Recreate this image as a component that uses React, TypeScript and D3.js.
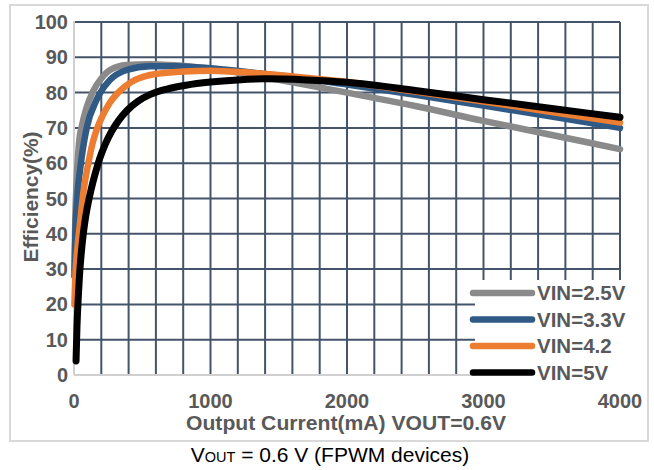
import React from "react";
import * as d3 from "d3";

type P = [number, number];

const series25: P[] = [[3,30],[10,45],[20,56],[30,62.5],[40,67],[56,70.3],[90,75.5],[141,80.5],[200,84],[264,86.4],[386,87.8],[560,88],[700,87.8],[900,87.2],[1100,86.3],[1400,84.3],[1700,82.2],[2000,80],[2500,76.2],[3000,72],[3500,68],[4000,64]];
const series33: P[] = [[3,28],[10,40],[25,51],[44,58],[65,64],[93,70],[166,78],[264,83.6],[386,86.4],[557,87.5],[750,87.5],[1000,86.9],[1300,85.7],[1600,84.4],[2000,82.3],[2500,79.4],[3000,76.3],[3500,73.2],[4000,70]];
const series42: P[] = [[3,20],[10,28],[25,36],[44,43],[73,53],[105,60],[135,65.5],[166,69.5],[210,73.5],[260,77],[337,80.5],[420,83],[557,85],[800,86],[1000,86.2],[1300,85.6],[1600,84.6],[2000,83],[2500,80.3],[3000,77.5],[3500,74.5],[4000,71.5]];
const series5: P[] = [[15,4],[22,14],[30,21],[40,28],[52,34],[65,39],[80,43.5],[100,48],[125,52.5],[155,57],[190,61.5],[230,65.5],[275,69],[325,72],[390,75],[470,77.6],[560,79.5],[680,81],[820,82.1],[1000,83],[1200,83.6],[1400,83.9],[1700,83.6],[2000,82.9],[2500,80.6],[3000,78],[3500,75.5],[4000,73]];

const seriesNames = ["VIN=2.5V", "VIN=3.3V", "VIN=4.2", "VIN=5V"];
const seriesColors = ["#8a8a8a", "#2f5a86", "#ed7d31", "#000000"];
const seriesData = [series25, series33, series42, series5];

const xTicks = [0, 1000, 2000, 3000, 4000];
const yTicks = [0, 10, 20, 30, 40, 50, 60, 70, 80, 90, 100];
const xGrid = d3.range(0, 4001, 200);

const FONT = "'Liberation Sans', Arial, sans-serif";
const GRID = "#44546a";
const LABEL = "#595959";

export default function App() {
  const x = d3.scaleLinear().domain([0, 4000]).range([74, 620]);
  const y = d3.scaleLinear().domain([0, 100]).range([375, 22]);
  const line = d3
    .line<P>()
    .x((d) => x(d[0]))
    .y((d) => y(d[1]))
    .curve(d3.curveMonotoneX);

  const legX0 = 473;
  const legX1 = 532;
  const legY = [293, 319.5, 346, 372.5];

  return (
    <svg
      width={654}
      height={470}
      style={{ position: "absolute", left: 0, top: 0, background: "#fff" }}
      fontFamily={FONT}
    >
      <rect x={0} y={0} width={654} height={470} fill="#fff" />
      <rect x={10} y={5} width={638} height={436} fill="#fff" stroke="#d9d9d9" strokeWidth={2} />

      {/* grid */}
      {yTicks.filter((t) => t > 0).map((t) => (
        <line key={"h" + t} x1={x(0)} x2={x(4000)} y1={y(t)} y2={y(t)} stroke={GRID} strokeWidth={2} />
      ))}
      {xGrid.filter((t) => t > 0).map((t) => (
        <line key={"v" + t} x1={x(t)} x2={x(t)} y1={y(100)} y2={y(0)} stroke={GRID} strokeWidth={2} />
      ))}
      <line x1={x(0)} x2={x(0)} y1={y(100) - 1} y2={y(0)} stroke="#d0d0d0" strokeWidth={2} />
      <line x1={x(0)} x2={x(4000)} y1={y(0)} y2={y(0)} stroke="#d0d0d0" strokeWidth={2} />

      {/* series */}
      {seriesData.map((d, i) => (
        <path
          key={seriesNames[i]}
          d={line(d) || ""}
          fill="none"
          stroke={seriesColors[i]}
          strokeWidth={i === 3 ? 7 : 6.5}
          strokeLinejoin="round"
          strokeLinecap="round"
        />
      ))}

      {/* y tick labels */}
      {yTicks.map((t) => (
        <text key={"yt" + t} x={68} y={y(t) + 7} textAnchor="end" fontSize={20} fontWeight="bold" fill={LABEL}>
          {t}
        </text>
      ))}
      {/* x tick labels */}
      {xTicks.map((t) => (
        <text key={"xt" + t} x={x(t)} y={408} textAnchor="middle" fontSize={20} fontWeight="bold" fill={LABEL}>
          {t}
        </text>
      ))}

      {/* axis titles */}
      <text
        x={346}
        y={430}
        textAnchor="middle"
        fontSize={19.5}
        fontWeight="bold"
        fill={LABEL}
        textLength={320}
        lengthAdjust="spacingAndGlyphs"
      >
        Output Current(mA) VOUT=0.6V
      </text>
      <text
        transform={`translate(38,${197}) rotate(-90)`}
        textAnchor="middle"
        fontSize={20}
        fontWeight="bold"
        fill={LABEL}
        textLength={131}
        lengthAdjust="spacingAndGlyphs"
      >
        Efficiency(%)
      </text>

      {/* legend */}
      <rect x={475} y={280} width={150} height={104} fill="#fff" />
      {seriesNames.map((n, i) => (
        <g key={"lg" + n}>
          <line x1={legX0} x2={legX1} y1={legY[i]} y2={legY[i]} stroke={seriesColors[i]} strokeWidth={6.5} strokeLinecap="round" />
          <text x={537} y={legY[i] + 7} fontSize={20.5} fontWeight="bold" fill={LABEL}>
            {n}
          </text>
        </g>
      ))}

      {/* caption */}
      <text x={330} y={462} textAnchor="middle" fontSize={21} fill="#000">
        V<tspan fontSize={14.5}>OUT</tspan> = 0.6 V (FPWM devices)
      </text>
    </svg>
  );
}
